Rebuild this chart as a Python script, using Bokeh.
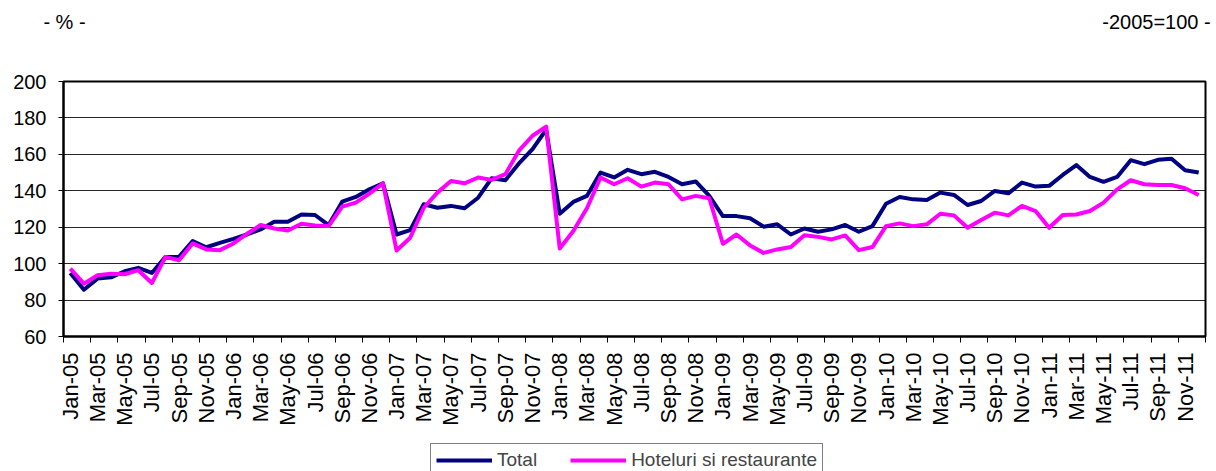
import math
from bokeh.plotting import figure
from bokeh.models import FixedTicker, Legend, LegendItem, Range1d, LinearAxis
from bokeh.layouts import column
from bokeh.embed import file_html
from bokeh.resources import INLINE

months = ["Jan-05", "Feb-05", "Mar-05", "Apr-05", "May-05", "Jun-05", "Jul-05", "Aug-05", "Sep-05", "Oct-05", "Nov-05", "Dec-05",
          "Jan-06", "Feb-06", "Mar-06", "Apr-06", "May-06", "Jun-06", "Jul-06", "Aug-06", "Sep-06", "Oct-06", "Nov-06", "Dec-06",
          "Jan-07", "Feb-07", "Mar-07", "Apr-07", "May-07", "Jun-07", "Jul-07", "Aug-07", "Sep-07", "Oct-07", "Nov-07", "Dec-07",
          "Jan-08", "Feb-08", "Mar-08", "Apr-08", "May-08", "Jun-08", "Jul-08", "Aug-08", "Sep-08", "Oct-08", "Nov-08", "Dec-08",
          "Jan-09", "Feb-09", "Mar-09", "Apr-09", "May-09", "Jun-09", "Jul-09", "Aug-09", "Sep-09", "Oct-09", "Nov-09", "Dec-09",
          "Jan-10", "Feb-10", "Mar-10", "Apr-10", "May-10", "Jun-10", "Jul-10", "Aug-10", "Sep-10", "Oct-10", "Nov-10", "Dec-10",
          "Jan-11", "Feb-11", "Mar-11", "Apr-11", "May-11", "Jun-11", "Jul-11", "Aug-11", "Sep-11", "Oct-11", "Nov-11", "Dec-11"]

total = [94.9, 85.7, 91.8, 92.5, 95.8, 97.7, 94.9, 103.7, 103.7, 112.4, 109.0, 111.4,
         113.6, 116.0, 118.8, 123.0, 123.0, 127.0, 126.7, 121.2, 134.0, 136.6, 140.8, 144.1,
         116.0, 118.4, 132.6, 130.7, 131.7, 130.4, 136.2, 146.9, 145.8, 155.0, 162.9, 173.5,
         127.4, 133.9, 137.2, 150.0, 147.3, 151.5, 149.1, 150.4, 147.6, 143.6, 145.1, 137.2,
         126.1, 126.1, 124.9, 120.3, 121.6, 116.0, 119.3, 117.5, 118.8, 121.2, 117.5, 120.6,
         132.9, 136.6, 135.3, 135.0, 139.0, 137.7, 132.2, 134.4, 139.9, 138.6, 144.5, 142.3,
         142.7, 148.7, 154.1, 147.6, 144.9, 147.6, 156.8, 154.6, 157.0, 157.6, 151.3, 150.0]

hotel = [97.3, 89.0, 93.6, 94.5, 94.2, 96.4, 89.4, 103.7, 101.9, 111.1, 107.8, 107.4,
         111.1, 116.4, 121.2, 119.3, 118.2, 121.9, 121.0, 120.6, 131.3, 133.5, 138.4, 144.1,
         107.2, 114.2, 130.7, 139.0, 145.4, 144.1, 147.3, 146.0, 149.1, 162.0, 170.2, 175.2,
         108.3, 117.9, 130.4, 147.3, 143.6, 146.9, 142.3, 144.5, 143.6, 135.3, 137.2, 135.9,
         110.9, 116.0, 110.0, 105.9, 107.8, 109.1, 115.6, 114.7, 113.3, 115.5, 107.4, 109.1,
         120.6, 122.1, 120.6, 121.6, 127.4, 126.5, 119.7, 123.9, 128.0, 126.5, 131.7, 128.9,
         119.7, 126.7, 127.0, 128.9, 133.5, 140.8, 145.8, 143.6, 143.2, 143.2, 141.4, 137.7]

series_names = ["Total", "Hoteluri si restaurante"]
series_colors = ["#000080", "#FF00FF"]
unit_left = "- % -"
unit_right = "-2005=100 -"
y_ticks = [60, 80, 100, 120, 140, 160, 180, 200]
grid_values = [80, 100, 120, 140, 160, 180]

FONT = "Liberation Sans"
W = 1216
n = len(months)
xs = [2 * i + 1 for i in range(n)]

# ---- main chart ----
p = figure(width=W, height=441, output_backend="svg", toolbar_location=None,
           x_range=Range1d(0, 2 * n), y_range=Range1d(60, 200),
           min_border_left=63, min_border_right=11, min_border_top=81, min_border_bottom=105)
p.background_fill_color = "white"
p.border_fill_color = "white"
p.outline_line_color = "black"
p.outline_line_width = 2

label_ticks = [2 * i + 1 for i in range(0, n, 2)]
p.xaxis.ticker = FixedTicker(ticks=label_ticks, minor_ticks=list(range(0, 2 * n + 1, 4)))
p.xaxis.major_label_overrides = {2 * i + 1: months[i] for i in range(0, n, 2)}
p.xaxis.major_tick_line_color = None
p.xaxis.major_tick_out = 6
p.xaxis.major_tick_in = 0
p.xaxis.minor_tick_line_color = "black"
p.xaxis.minor_tick_out = 6
p.xaxis.minor_tick_in = 0
p.xaxis.axis_line_width = 2
p.xaxis.axis_line_color = "black"
p.xaxis.major_label_orientation = math.pi / 2
p.xaxis.major_label_standoff = 10
p.xaxis.major_label_text_font = FONT
p.xaxis.major_label_text_font_size = "22px"
p.xaxis.major_label_text_color = "black"

p.yaxis.ticker = FixedTicker(ticks=y_ticks)
p.yaxis.major_tick_out = 5
p.yaxis.major_tick_in = 0
p.yaxis.major_tick_line_color = "black"
p.yaxis.minor_tick_line_color = None
p.yaxis.axis_line_width = 2
p.yaxis.axis_line_color = "black"
p.yaxis.major_label_standoff = 12
p.yaxis.major_label_text_font = FONT
p.yaxis.major_label_text_font_size = "20px"
p.yaxis.major_label_text_color = "black"

p.xgrid.visible = False
p.ygrid.ticker = FixedTicker(ticks=grid_values)
p.ygrid.grid_line_color = "black"
p.ygrid.grid_line_width = 1
p.ygrid.grid_line_alpha = 0.85

p.line(xs, total, line_color=series_colors[0], line_width=4, line_join="round")
p.line(xs, hotel, line_color=series_colors[1], line_width=4, line_join="round")

# unit texts above the chart, carried by a label-only axis in pixel coordinates
p.extra_x_ranges = {"hdr": Range1d(63, 1205)}
hdr = LinearAxis(x_range_name="hdr", ticker=FixedTicker(ticks=[64, 1156]),
                 major_label_overrides={64: unit_left, 1156: unit_right},
                 axis_line_color=None, major_tick_line_color=None, minor_tick_line_color=None,
                 major_tick_out=0, major_tick_in=0, minor_tick_out=0,
                 major_label_standoff=49, major_label_text_font=FONT,
                 major_label_text_font_size="20px", major_label_text_color="black")
p.add_layout(hdr, "above")

# ---- footer with the legend ----
foot = figure(width=W, height=30, output_backend="svg", toolbar_location=None,
              x_range=Range1d(0, 10), y_range=Range1d(0, 10),
              x_axis_type=None, y_axis_type=None,
              min_border_left=63, min_border_right=11, min_border_top=0, min_border_bottom=0)
foot.outline_line_color = None
l1 = foot.line([-5, -4], [-5, -5], line_color=series_colors[0], line_width=4)
l2 = foot.line([-5, -4], [-5, -5], line_color=series_colors[1], line_width=4)
legend = Legend(items=[LegendItem(label=series_names[0], renderers=[l1]),
                       LegendItem(label=series_names[1], renderers=[l2])],
                orientation="horizontal", location=(367, -6),
                glyph_width=56, glyph_height=16, label_height=16, label_standoff=5, spacing=33,
                padding=5, margin=0,
                label_text_font=FONT, label_text_font_size="19px",
                border_line_color="black", border_line_width=1,
                background_fill_color="white", background_fill_alpha=1.0)
foot.add_layout(legend)

layout = column(p, foot, spacing=0)
open("out.html", "w").write(file_html(layout, INLINE))
